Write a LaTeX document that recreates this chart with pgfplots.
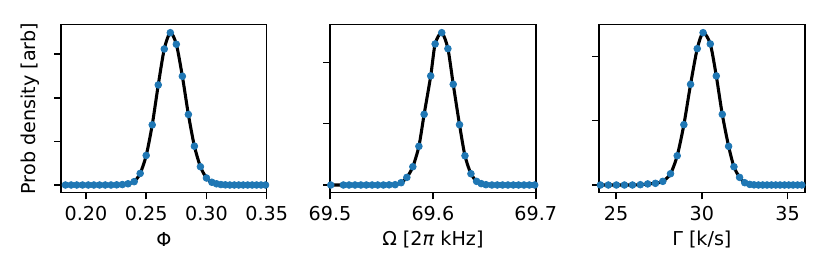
\documentclass[border=0pt]{standalone}
\usepackage{fontspec}
\setmainfont{DejaVu Sans}
\usepackage{pgfplots}
\pgfplotsset{compat=1.18}
\definecolor{mplblue}{HTML}{1F77B4}
\pgfplotsset{
  panel/.style={
    scale only axis,
    width=107.07bp, height=87.65bp,
    anchor=south west,
    axis line style={line width=0.8bp},
    tick align=outside,
    major tick length=3.5bp,
    every tick/.style={line width=0.8bp, black},
    xtick pos=bottom, ytick pos=left,
    yticklabels={},
    ymin=-0.0506, ymax=1.055,
    /pgf/number format/assume math mode=true,
    ticklabel style={font=\fontsize{10}{12}\selectfont},
    label style={font=\fontsize{10}{12}\selectfont},
    xlabel style={at={(axis description cs:0.5,0)}, anchor=center, yshift=-24.6bp},
    clip=false,
  },
  curve/.style={black, line width=1.6bp, smooth, tension=0.45, no marks},
  dots/.style={only marks, mark=*, mark size=1.75bp, mplblue, mark options={draw=mplblue, fill=mplblue}},
}
\begin{document}
\begin{tikzpicture}
\useasboundingbox (0,0) rectangle (432.0bp,144.18bp);
% Panel 1
\begin{axis}[panel, at={(31.75bp,43.88bp)},
  xmin=0.1793, xmax=0.35,
  xtick={0.20,0.25,0.30,0.35},
  xticklabel style={/pgf/number format/.cd, fixed, fixed zerofill, precision=2},
  ytick={0,0.2863,0.5726,0.8589},
  xlabel={Φ},
  ylabel={Prob density [arb]},
  ylabel style={at={(axis description cs:-0.1507,0.5)}, anchor=center},
]
\addplot[curve] coordinates {
(0.183,0) (0.1877,0) (0.1924,0) (0.1972,0) (0.2019,0) (0.2066,0) (0.2113,0) (0.2160,0) (0.2208,0) (0.2255,0.001) (0.2302,0.003) (0.2349,0.008)
(0.240,0.022) (0.245,0.076) (0.250,0.194) (0.255,0.395) (0.260,0.657) (0.265,0.893) (0.270,1.0) (0.275,0.924) (0.280,0.714) (0.285,0.463) (0.290,0.255) (0.295,0.120) (0.300,0.046)
(0.3045,0.018) (0.3083,0.008) (0.3120,0.003) (0.3157,0.001) (0.3194,0) (0.3231,0) (0.3268,0) (0.3305,0) (0.3342,0) (0.3379,0) (0.3416,0) (0.3453,0) (0.3490,0)
};
\addplot[dots] coordinates {
(0.183,0) (0.1877,0) (0.1924,0) (0.1972,0) (0.2019,0) (0.2066,0) (0.2113,0) (0.2160,0) (0.2208,0) (0.2255,0.001) (0.2302,0.003) (0.2349,0.008)
(0.240,0.022) (0.245,0.076) (0.250,0.194) (0.255,0.395) (0.260,0.657) (0.265,0.893) (0.270,1.0) (0.275,0.924) (0.280,0.714) (0.285,0.463) (0.290,0.255) (0.295,0.120) (0.300,0.046)
(0.3045,0.018) (0.3083,0.008) (0.3120,0.003) (0.3157,0.001) (0.3194,0) (0.3231,0) (0.3268,0) (0.3305,0) (0.3342,0) (0.3379,0) (0.3416,0) (0.3453,0) (0.3490,0)
};
\end{axis}
% Panel 2
\begin{axis}[panel, at={(171.77bp,43.88bp)},
  xmin=69.5, xmax=69.7,
  xtick={69.5,69.6,69.7},
  xticklabel style={/pgf/number format/.cd, fixed, fixed zerofill, precision=1},
  ytick={0,0.4028,0.8056},
  xlabel={Ω [2\textit{π} kHz]},
]
\addplot[curve] coordinates {
(69.5007,0) (69.5130,0) (69.5185,0) (69.5243,0) (69.5300,0) (69.5353,0) (69.5409,0) (69.5464,0) (69.5519,0) (69.5574,0.001) (69.5633,0.002) (69.5691,0.015) (69.5747,0.050) (69.5805,0.120) (69.5864,0.254) (69.5915,0.464) (69.5979,0.716) (69.6022,0.926) (69.6086,1.0) (69.6146,0.895) (69.6198,0.661) (69.6259,0.396) (69.6312,0.192) (69.6370,0.074) (69.6425,0.024) (69.6470,0.009) (69.6516,0.002) (69.6574,0) (69.6626,0) (69.6678,0) (69.6730,0) (69.6782,0) (69.6833,0) (69.6886,0) (69.6938,0) (69.6990,0)
};
\addplot[dots] coordinates {
(69.5007,0) (69.5130,0) (69.5185,0) (69.5243,0) (69.5300,0) (69.5353,0) (69.5409,0) (69.5464,0) (69.5519,0) (69.5574,0.001) (69.5633,0.002) (69.5691,0.015) (69.5747,0.050) (69.5805,0.120) (69.5864,0.254) (69.5915,0.464) (69.5979,0.716) (69.6022,0.926) (69.6086,1.0) (69.6146,0.895) (69.6198,0.661) (69.6259,0.396) (69.6312,0.192) (69.6370,0.074) (69.6425,0.024) (69.6470,0.009) (69.6516,0.002) (69.6574,0) (69.6626,0) (69.6678,0) (69.6730,0) (69.6782,0) (69.6833,0) (69.6886,0) (69.6938,0) (69.6990,0)
};
\end{axis}
% Panel 3
\begin{axis}[panel, at={(311.78bp,43.88bp)},
  xmin=24, xmax=36,
  xtick={25,30,35},
  ytick={0,0.4224,0.8448},
  xlabel={Γ [k/s]},
]
\addplot[curve] coordinates {
(24.08,0) (24.54,0) (25.01,0) (25.48,0) (25.95,0) (26.41,0.002) (26.84,0.007) (27.29,0.011) (27.72,0.024) (28.17,0.074) (28.56,0.192) (28.95,0.396) (29.34,0.661) (29.73,0.895) (30.07,1.0) (30.49,0.926) (30.84,0.716) (31.19,0.464) (31.56,0.254) (31.87,0.120) (32.20,0.050) (32.50,0.015) (32.79,0.004) (33.04,0.001) (33.30,0) (33.55,0) (33.80,0) (34.06,0) (34.31,0) (34.56,0) (34.82,0) (35.07,0) (35.32,0) (35.58,0) (35.83,0)
};
\addplot[dots] coordinates {
(24.08,0) (24.54,0) (25.01,0) (25.48,0) (25.95,0) (26.41,0.002) (26.84,0.007) (27.29,0.011) (27.72,0.024) (28.17,0.074) (28.56,0.192) (28.95,0.396) (29.34,0.661) (29.73,0.895) (30.07,1.0) (30.49,0.926) (30.84,0.716) (31.19,0.464) (31.56,0.254) (31.87,0.120) (32.20,0.050) (32.50,0.015) (32.79,0.004) (33.04,0.001) (33.30,0) (33.55,0) (33.80,0) (34.06,0) (34.31,0) (34.56,0) (34.82,0) (35.07,0) (35.32,0) (35.58,0) (35.83,0)
};
\end{axis}
\end{tikzpicture}
\end{document}
